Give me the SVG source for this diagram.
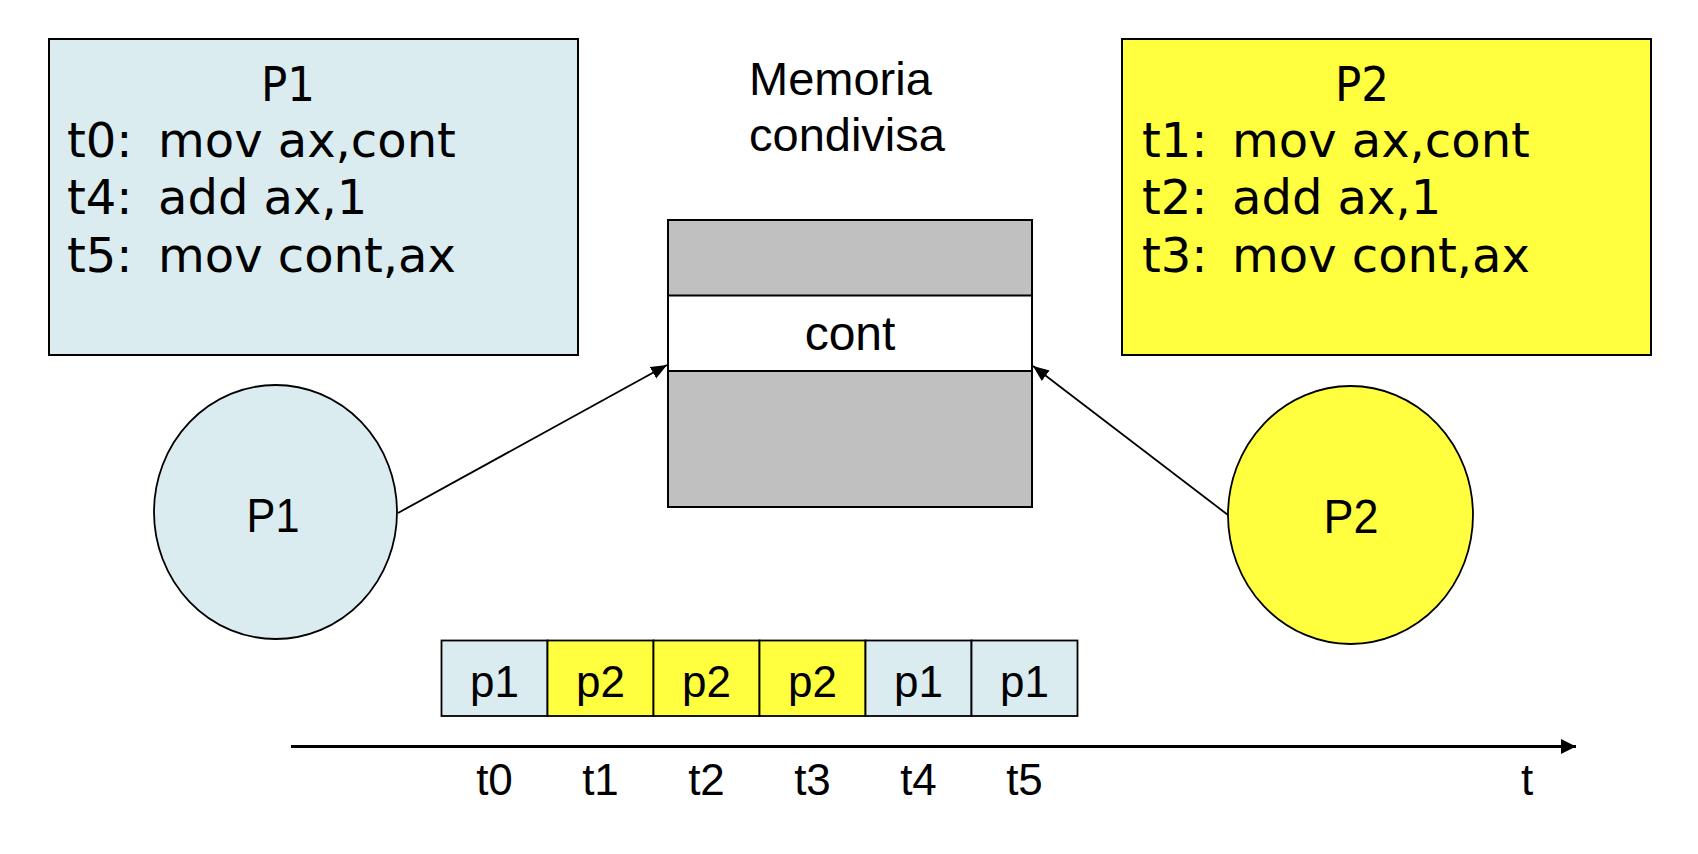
<svg xmlns="http://www.w3.org/2000/svg" width="1698" height="854" viewBox="0 0 1698 854">
<style>
.blue{fill:#DAECEF}
.yel{fill:#FFFF40}
.box{stroke:#000;stroke-width:2}
.code{font-family:"DejaVu Sans",Verdana,sans-serif;font-size:48px;fill:#000}
.ar{font-family:"Liberation Sans",Arial,sans-serif;fill:#000}
.cell{stroke:#000;stroke-width:1.8}
.conn{stroke:#000;stroke-width:1.8;fill:none}
</style>
<defs>
<marker id="ah" markerUnits="userSpaceOnUse" markerWidth="17" markerHeight="14" refX="16" refY="6.5" orient="auto">
<path d="M0,0 L16,6.5 L0,13 Z" fill="#000"/>
</marker>
<marker id="axh" markerUnits="userSpaceOnUse" markerWidth="16" markerHeight="16" refX="15" refY="7.5" orient="auto">
<path d="M0,0 L15,7.5 L0,15 Z" fill="#000"/>
</marker>
</defs>
<rect width="1698" height="854" fill="#fff"/>

<g id="p1-code">
<rect class="blue box" x="49" y="39" width="529" height="316"/>
<text class="code" x="288" y="101" text-anchor="middle" textLength="54" lengthAdjust="spacingAndGlyphs">P1</text>
<text class="code" x="67" y="157">t0: <tspan x="158">mov ax,cont</tspan></text>
<text class="code" x="67" y="214">t4: <tspan x="158">add ax,1</tspan></text>
<text class="code" x="67" y="272">t5: <tspan x="158">mov cont,ax</tspan></text>
</g>

<g id="p2-code">
<rect class="yel box" x="1122" y="39" width="529" height="316"/>
<text class="code" x="1362" y="101" text-anchor="middle" textLength="54" lengthAdjust="spacingAndGlyphs">P2</text>
<text class="code" x="1142" y="157">t1: <tspan x="1232">mov ax,cont</tspan></text>
<text class="code" x="1142" y="214">t2: <tspan x="1232">add ax,1</tspan></text>
<text class="code" x="1142" y="272">t3: <tspan x="1232">mov cont,ax</tspan></text>
</g>

<g id="memoria">
<text class="ar" x="749" y="95" font-size="47">Memoria</text>
<text class="ar" x="749" y="151" font-size="47">condivisa</text>
<rect x="668" y="220" width="364" height="287" fill="#C0C0C0" stroke="#000" stroke-width="2"/>
<rect x="668" y="295.5" width="364" height="75.5" fill="#fff" stroke="#000" stroke-width="2"/>
<text class="ar" x="850" y="350" font-size="48" text-anchor="middle">cont</text>
</g>

<g id="p1-proc">
<ellipse class="blue" cx="275.5" cy="512" rx="121.5" ry="127" stroke="#000" stroke-width="1.8"/>
<text class="ar" x="273" y="532" font-size="48" text-anchor="middle" textLength="53" lengthAdjust="spacingAndGlyphs">P1</text>
</g>

<g id="p2-proc">
<ellipse class="yel" cx="1350.5" cy="515" rx="122.5" ry="129" stroke="#000" stroke-width="1.8"/>
<text class="ar" x="1351" y="533" font-size="48" text-anchor="middle" textLength="55" lengthAdjust="spacingAndGlyphs">P2</text>
</g>

<g id="timeline">
<rect class="blue cell" x="441.5" y="640.5" width="106" height="75.5"/>
<rect class="yel cell" x="547.5" y="640.5" width="106" height="75.5"/>
<rect class="yel cell" x="653.5" y="640.5" width="106" height="75.5"/>
<rect class="yel cell" x="759.5" y="640.5" width="106" height="75.5"/>
<rect class="blue cell" x="865.5" y="640.5" width="106" height="75.5"/>
<rect class="blue cell" x="971.5" y="640.5" width="106" height="75.5"/>
<g class="ar" font-size="44" text-anchor="middle">
<text x="494.5" y="697">p1</text>
<text x="600.5" y="697">p2</text>
<text x="706.5" y="697">p2</text>
<text x="812.5" y="697">p2</text>
<text x="918.5" y="697">p1</text>
<text x="1024.5" y="697">p1</text>
<text x="494.5" y="795">t0</text>
<text x="600.5" y="795">t1</text>
<text x="706.5" y="795">t2</text>
<text x="812.5" y="795">t3</text>
<text x="918.5" y="795">t4</text>
<text x="1024.5" y="795">t5</text>
<text x="1527" y="795">t</text>
</g>
</g>

<g id="connectors">
<line class="conn" x1="398" y1="513" x2="667" y2="365" marker-end="url(#ah)"/>
<line class="conn" x1="1228" y1="515" x2="1033" y2="366" marker-end="url(#ah)"/>
<line x1="291" y1="746.5" x2="1576" y2="746.5" stroke="#000" stroke-width="3" marker-end="url(#axh)"/>
</g>
</svg>
